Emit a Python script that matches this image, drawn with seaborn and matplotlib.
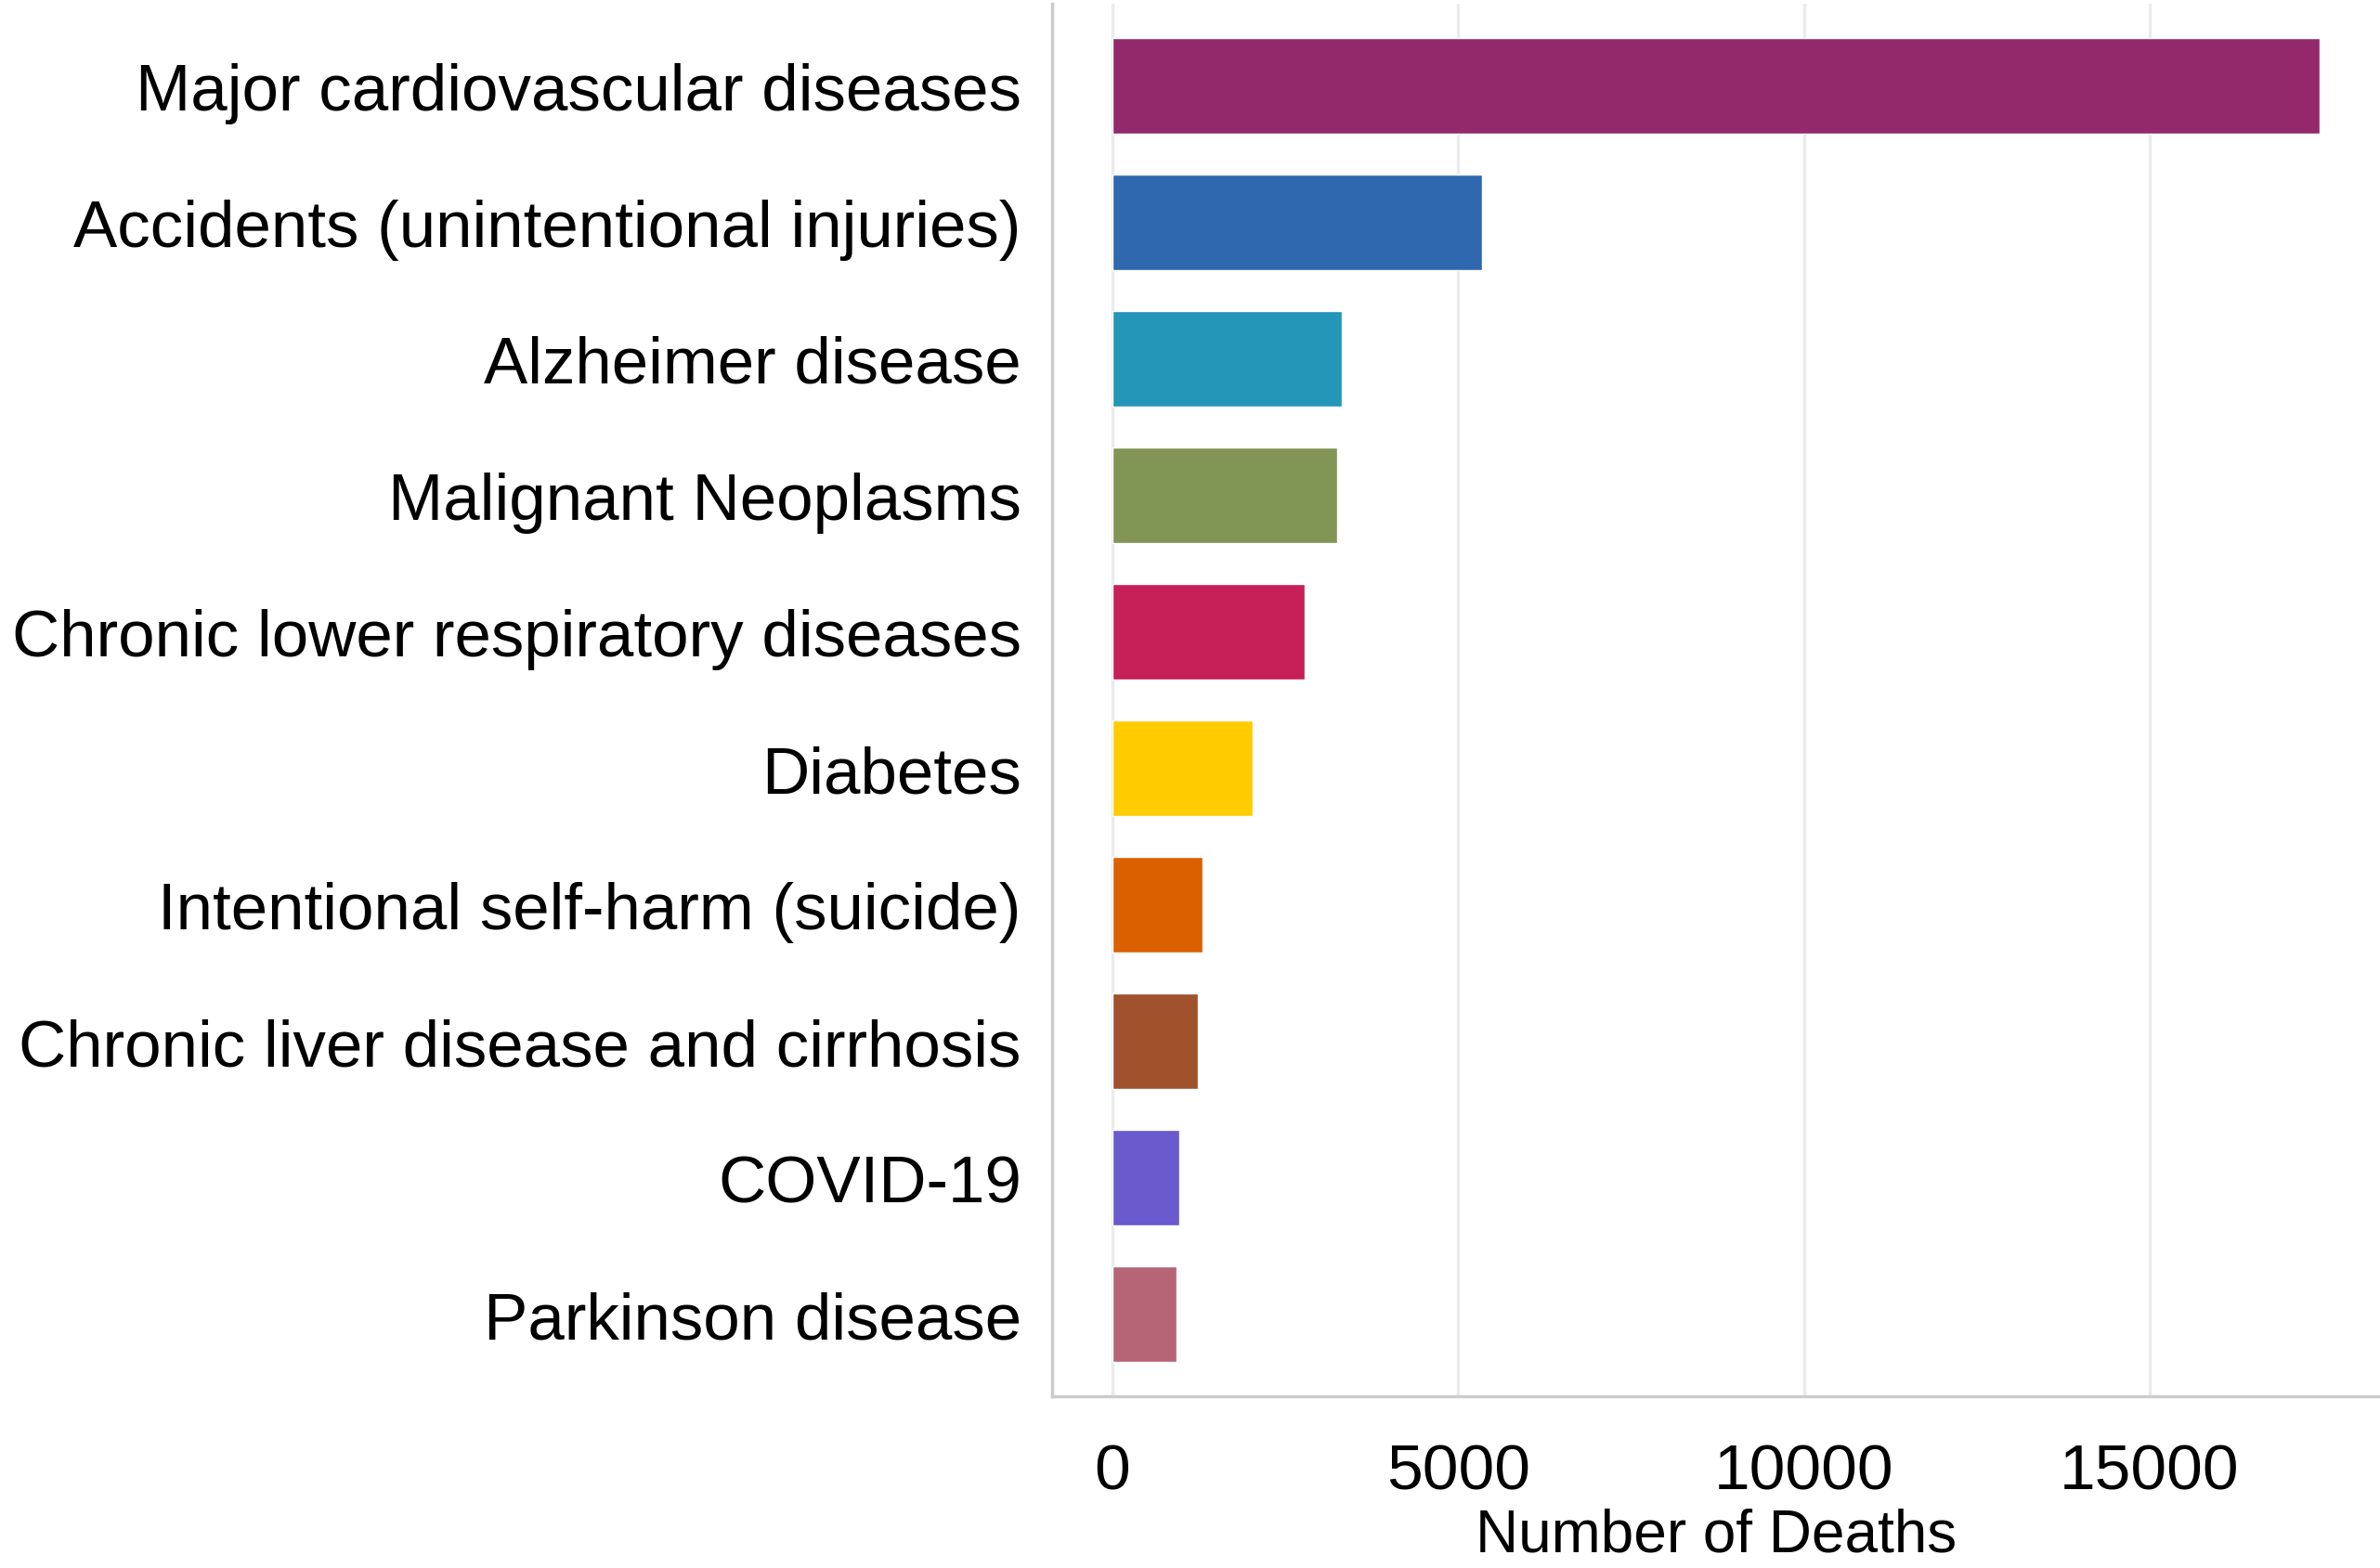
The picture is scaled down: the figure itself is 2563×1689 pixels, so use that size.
import matplotlib
matplotlib.use("Agg")
import matplotlib.pyplot as plt
import seaborn as sns
import pandas as pd

causas = [
    "Major cardiovascular diseases",
    "Accidents (unintentional injuries)",
    "Alzheimer disease",
    "Malignant Neoplasms",
    "Chronic lower respiratory diseases",
    "Diabetes",
    "Intentional self-harm (suicide)",
    "Chronic liver disease and cirrhosis",
    "COVID-19",
    "Parkinson disease",
]
mortes = [17460, 5350, 3320, 3250, 2780, 2030, 1300, 1230, 965, 925]
cores = ["#93296B", "#3068B0", "#2496B8", "#819555", "#C71F58",
         "#FFCC00", "#DA6000", "#A0522D", "#6A5ACD", "#B56576"]
ticks_x = [0, 5000, 10000, 15000]

df = pd.DataFrame({"causa": causas, "mortes": mortes})

sns.set_style("white")
plt.rcParams["font.family"] = ["Liberation Sans", "DejaVu Sans"]

fig = plt.figure(figsize=(25.63, 16.90), dpi=100)
ax = fig.add_axes([0.4421, 0.1095, 0.5579, 0.8875])

sns.barplot(data=df, y="causa", x="mortes", hue="causa", palette=cores,
            order=causas, hue_order=causas, orient="h", width=0.7,
            legend=False, ax=ax, saturation=1)

exp = 0.05 * max(mortes)
ax.set_xlim(-exp, max(mortes) + exp)
ax.set_ylim(len(causas) - 0.4, -0.6)
ax.set_xticks(ticks_x)
ax.set_xticklabels([str(t) for t in ticks_x])
ax.grid(axis="x", color="#EBEBEB", linewidth=2.5)
ax.grid(axis="y", visible=False)
ax.set_axisbelow(True)

for lado in ["top", "right"]:
    ax.spines[lado].set_visible(False)
for lado in ["left", "bottom"]:
    ax.spines[lado].set_color("#CCCCCC")
    ax.spines[lado].set_linewidth(2.5)

ax.tick_params(axis="both", length=0, labelsize=50, colors="black")
ax.tick_params(axis="y", labelsize=51, pad=24)
ax.tick_params(axis="x", pad=36)
ax.set_ylabel("")
ax.set_xlabel("Number of Deaths", fontsize=46, labelpad=4, color="black")

fig.savefig("out.png", dpi=100)
